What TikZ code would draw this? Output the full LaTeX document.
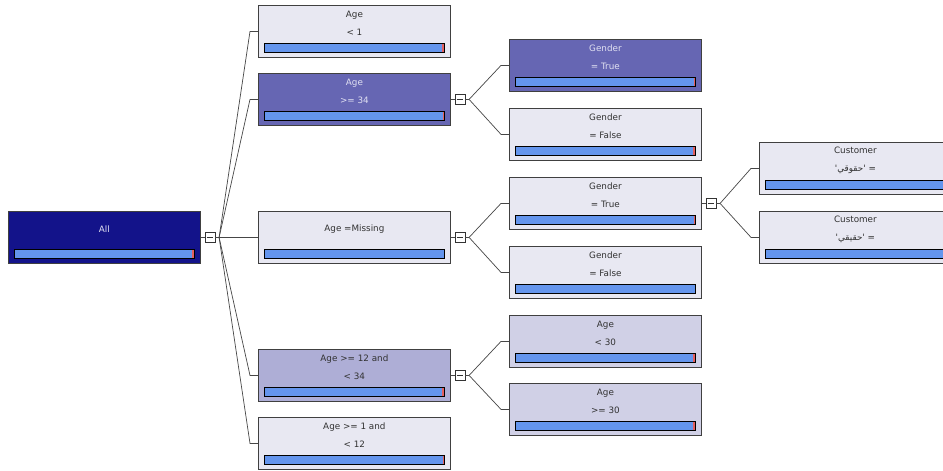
\documentclass[tikz,border=0pt]{standalone}
\usepackage{fontspec}
\setmainfont{DejaVu Sans}
\newfontfamily\arabicfont[Script=Arabic]{DejaVu Sans}
\TeXXeTstate=1
\usetikzlibrary{calc}
\definecolor{navyfill}{RGB}{19,19,138}
\definecolor{purplefill}{RGB}{102,102,179}
\definecolor{lightfill}{RGB}{232,232,242}
\definecolor{midfill}{RGB}{174,174,214}
\definecolor{palefill}{RGB}{208,208,230}
\definecolor{barblue}{RGB}{100,149,237}
\definecolor{barred}{RGB}{228,96,96}
\definecolor{darktext}{RGB}{50,50,50}
\definecolor{lighttext}{RGB}{225,225,242}
\definecolor{connline}{RGB}{70,70,70}
\tikzset{
  x=1pt, y=1pt,
  tbox/.style={draw=black!75, line width=0.8pt, minimum width=192pt, minimum height=52pt, inner sep=0pt},
  tlabel/.style={align=center, inner sep=0pt, font={\fontsize{8.8}{18}\selectfont}},
  barframe/.style={draw=black, line width=0.7pt},
  conn/.style={draw=connline, line width=0.7pt},
  tog/.style={draw=black!80, fill=white, line width=0.6pt, minimum size=10pt, inner sep=0pt}
}
% name, x, y, fill, textcolor, text, redwidth
\newcommand\mkbox[7]{%
  \node[tbox, fill=#4, anchor=north west] (#1) at (#2,-#3) {};
  \node[tlabel, text=#5] (#1t) at ($(#1.north)+(0,-18)$) {#6};
  \fill[barblue] ($(#1.north west)+(6,-38)$) rectangle ($(#1.north east)+(-6,-47)$);
  \fill[barred] ($(#1.north east)+(-6-#7,-38)$) rectangle ($(#1.north east)+(-6,-47)$);
  \draw[barframe] ($(#1.north west)+(6,-38)$) rectangle ($(#1.north east)+(-6,-47)$);
}
\newcommand\mktoggle[2]{%
  \node[tog] (#2) at ($(#1.east)+(9,0)$) {};
  \draw[black!80, line width=0.6pt] ($(#2.west)+(2,0)$) -- ($(#2.east)+(-2,0)$);
  \draw[conn] (#1.east) -- (#2.west);
  \coordinate (#2b) at ($(#2.east)+(4,0)$);
  \draw[conn] (#2.east) -- (#2b);
}
\newcommand\mklink[2]{%
  \draw[conn] (#1b) -- ($(#2.west)+(-8,0)$) -- (#2.west);
}
\begin{document}
\begin{tikzpicture}
\useasboundingbox (0,0) rectangle (943,-471);
\fill[white] (0,0) rectangle (943,-471);
% root
\mkbox{all}{8}{211}{navyfill}{lighttext}{All}{3}
% column 1
\mkbox{a1}{258}{5}{lightfill}{darktext}{Age\\< 1}{3}
\mkbox{a2}{258}{73}{purplefill}{lighttext}{Age\\>= 34}{2}
\mkbox{a3}{258}{211}{lightfill}{darktext}{Age =Missing}{0}
\mkbox{a4}{258}{349}{midfill}{darktext}{Age >= 12 and\\< 34}{3}
\mkbox{a5}{258}{417}{lightfill}{darktext}{Age >= 1 and\\< 12}{1.5}
% column 2
\mkbox{g1}{509}{39}{purplefill}{lighttext}{Gender\\= True}{2}
\mkbox{g2}{509}{108}{lightfill}{darktext}{Gender\\= False}{2.5}
\mkbox{g3}{509}{177}{lightfill}{darktext}{Gender\\= True}{1.5}
\mkbox{g4}{509}{246}{lightfill}{darktext}{Gender\\= False}{0}
\mkbox{b1}{509}{315}{palefill}{darktext}{Age\\< 30}{3}
\mkbox{b2}{509}{383}{palefill}{darktext}{Age\\>= 30}{3}
% column 3
\mkbox{c1}{759}{142}{lightfill}{darktext}{Customer\\{\arabicfont\beginR= 'حقوقي'\endR}}{0}
\mkbox{c2}{759}{211}{lightfill}{darktext}{Customer\\{\arabicfont\beginR= 'حقيقي'\endR}}{0}
% connectors
\mktoggle{all}{tall}
\mklink{tall}{a1}
\mklink{tall}{a2}
\mklink{tall}{a3}
\mklink{tall}{a4}
\mklink{tall}{a5}
\mktoggle{a2}{ta2}
\mklink{ta2}{g1}
\mklink{ta2}{g2}
\mktoggle{a3}{ta3}
\mklink{ta3}{g3}
\mklink{ta3}{g4}
\mktoggle{a4}{ta4}
\mklink{ta4}{b1}
\mklink{ta4}{b2}
\mktoggle{g3}{tg3}
\mklink{tg3}{c1}
\mklink{tg3}{c2}
\end{tikzpicture}
\end{document}
